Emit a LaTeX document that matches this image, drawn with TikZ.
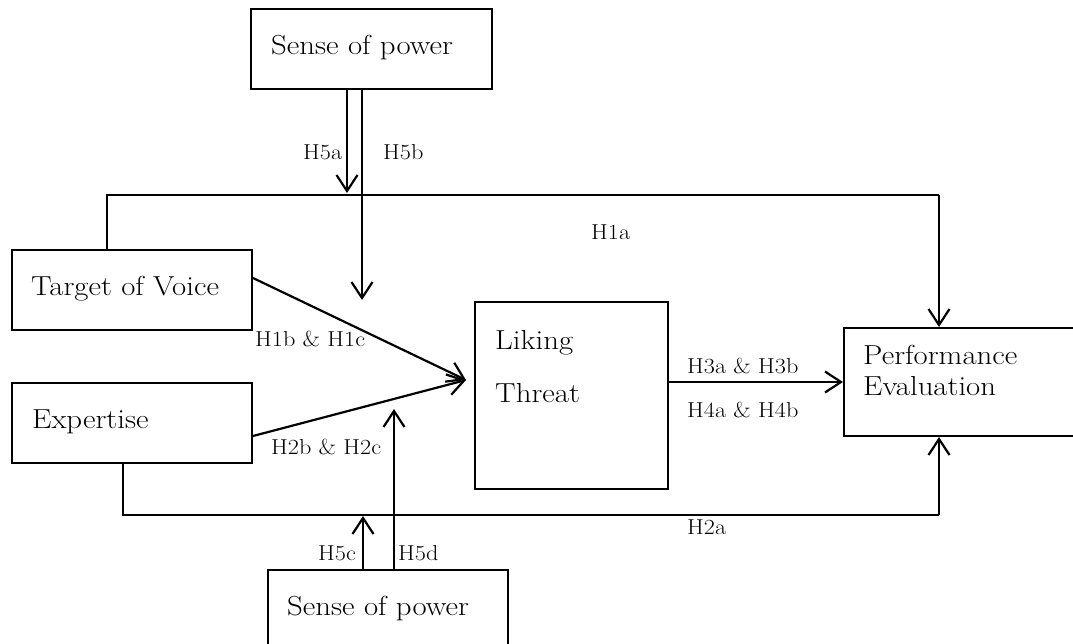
\documentclass[tikz,border=0pt]{standalone}
\usepackage{fontspec}
\setmainfont{Latin Modern Roman}[FakeStretch=1.12]
\usetikzlibrary{arrows.meta,calc}
\begin{document}
\begin{tikzpicture}[x=1pt,y=-1pt,
  box/.style={draw,line width=2pt,inner sep=0pt,anchor=north west},
  big/.style={font=\fontsize{27.5}{31}\selectfont,inner sep=0pt,anchor=base west},
  sml/.style={font=\fontsize{21.6}{25}\selectfont,inner sep=0pt,anchor=base west},
  arr/.style={line width=2.2pt,-{Straight Barb[length=16pt,width=21pt,line width=2.2pt]}},
  thinln/.style={line width=1.2pt}]
\useasboundingbox (0,0) rectangle (1073,644);
\clip (0,0) rectangle (1073,644);
% boxes
\node[box,minimum width=241pt,minimum height=80pt] (sp1) at (250,8) {};
\node[box,minimum width=240pt,minimum height=80pt] (tv) at (11,249) {};
\node[box,minimum width=240pt,minimum height=80pt] (ex) at (11,382) {};
\node[box,minimum width=193pt,minimum height=187pt] (lt) at (474,301) {};
\node[box,minimum width=240pt,minimum height=108pt] (pe) at (843,327) {};
\node[box,minimum width=240pt,minimum height=80pt] (sp2) at (267,569) {};
% box texts
\node[big] (tsp1) at (271,55) {Sense of power};
\node[big] (ttv) at (31,295) {Target of Voice};
\node[big] (tex) at (32,428) {Expertise};
\node[big] (tlk) at (495,349) {Liking};
\node[big] (tth) at (495,402) {Threat};
\node[big] (tpe1) at (863,364) {Performance};
\node[big] (tpe2) at (863,395) {Evaluation};
\node[big] (tsp2) at (287,615) {Sense of power};
% labels
\node[sml] (l5a) at (303,160) {H5a};
\node[sml] (l5b) at (383,160) {H5b};
\node[sml] (l1a) at (591,240) {H1a};
\node[sml] (l1b) at (255,346) {H1b \& H1c};
\node[sml] (l2b) at (271,454) {H2b \& H2c};
\node[sml] (l3) at (687,373) {H3a \& H3b};
\node[sml] (l4) at (687,417) {H4a \& H4b};
\node[sml] (l2a) at (687,534) {H2a};
\node[sml] (l5c) at (318,560) {H5c};
\node[sml] (l5d) at (398,560) {H5d};
% coordinates
\coordinate (m) at (466,380);
\coordinate (c1) at (107,195);
\coordinate (c2) at (939,195);
\coordinate (d1) at (123,515);
\coordinate (d2) at (939,515);
\coordinate (h3) at (667,382);
\coordinate (e5a) at (347,193);
\coordinate (e5b) at (362,300);
\coordinate (e5c) at (363,516);
\coordinate (e5d) at (394,409);
% connectors
\draw[thinln] ($(tv.north west)+(96,0)$) -- (c1) -- (c2);
\draw[arr] (c2) -- (c2 |- pe.north);
\draw[thinln] ($(ex.south west)+(112,0)$) -- (d1) -- (d2);
\draw[arr] (d2) -- (d2 |- pe.south);
\draw[arr] ([yshift=12pt]tv.east) -- (m);
\draw[arr] ([yshift=-13pt]ex.east) -- (m);
\draw[arr] (h3) -- (h3 -| pe.west);
\draw[arr] ($(sp1.south west)+(97,0)$) -- (e5a);
\draw[arr] ($(sp1.south west)+(112,0)$) -- (e5b);
\draw[arr] ($(sp2.north west)+(96,0)$) -- (e5c);
\draw[arr] ($(sp2.north west)+(127,0)$) -- (e5d);
\end{tikzpicture}
\end{document}
